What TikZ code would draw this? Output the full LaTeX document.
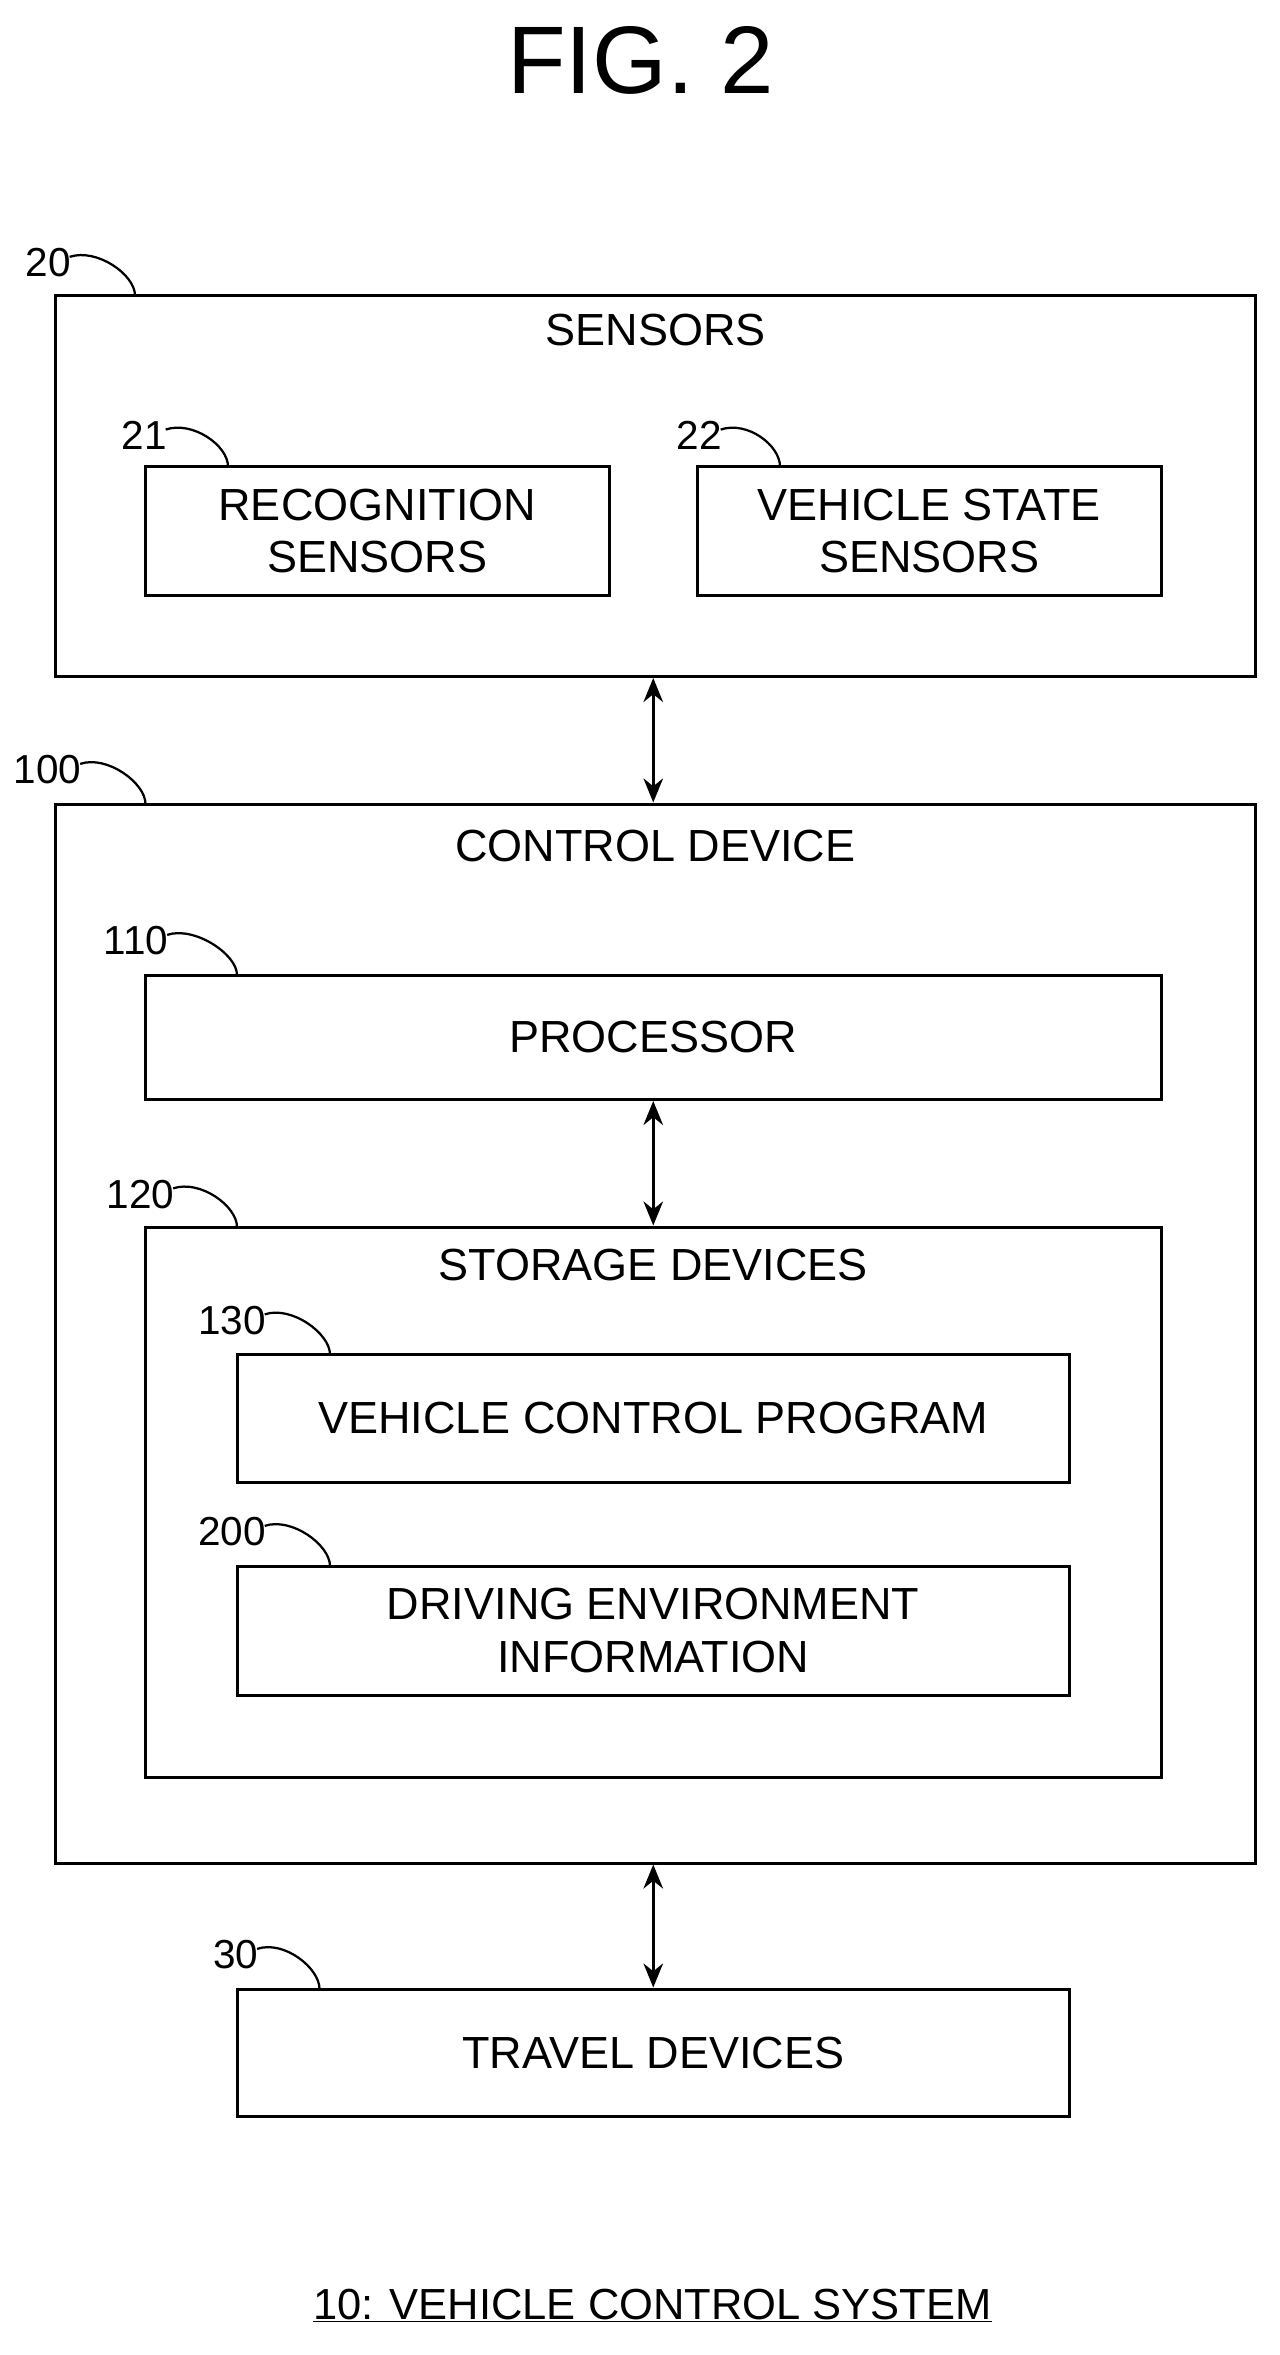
\documentclass[tikz,border=0pt]{standalone}
\usepackage{fontspec}
\setmainfont{Liberation Sans}
\usetikzlibrary{positioning, arrows.meta}
\tikzset{
	x=1pt, y=-1pt,
	every text node part/.style= {
		align=center
	},
	block/.style= {
		rectangle,
		draw,
		line width=2pt,
		inner sep=0pt,
		font=\fontsize{30}{35}\selectfont
	},
	title/.style= {
		font=\fontsize{30}{35}\selectfont
	},
	refnum/.style= {
		font=\fontsize{27}{32}\selectfont,
		inner sep=1pt
	},
	leader/.style= {
		line width=1.5pt
	},
	link/.style= {
		line width=2pt,
		{Stealth[length=16pt,width=13pt]}-{Stealth[length=16pt,width=13pt]}
	}
}
\newcommand{\refmark}[4]{% name, text, label position, leader end
	\node (#1)[refnum, anchor=south west] at (#3) {#2};
	\draw[leader] (#1.east) ++(-2,-4) .. controls +(18,-6) and +(0,-14) .. (#4);
}
\begin{document}
\begin{tikzpicture}
	\useasboundingbox (0,0) rectangle (853,1570);
	
	\node (fig) at (427,40) {\fontsize{64}{72}\selectfont FIG. 2};
	
	% sensors
	\node (sensors)[block, minimum width=800, minimum height=254] at (437,324) {};
	\node (sensorsT)[title, below=10pt of sensors.north] {SENSORS};
	\node (recog)[block, minimum width=309, minimum height=86] at (251.5,354) {RECOGNITION\\SENSORS};
	\node (vstate)[block, minimum width=309, minimum height=86] at (619.5,354) {VEHICLE STATE\\SENSORS};
	
	% control device
	\node (control)[block, minimum width=800, minimum height=706] at (437,889) {};
	\node (controlT)[title, below=15pt of control.north] {CONTROL DEVICE};
	\node (proc)[block, minimum width=677, minimum height=83] at (435.5,691.5) {PROCESSOR};
	\node (storage)[block, minimum width=677, minimum height=367] at (435.5,1001.5) {};
	\node (storageT)[title, below=12pt of storage.north] {STORAGE DEVICES};
	\node (prog)[block, minimum width=555, minimum height=85] at (435.5,945.5) {VEHICLE CONTROL PROGRAM};
	\node (envinfo)[block, minimum width=555, minimum height=86] at (435.5,1087) {DRIVING ENVIRONMENT\\INFORMATION};
	
	% travel devices
	\node (travel)[block, minimum width=555, minimum height=85] at (435.5,1368.5) {TRAVEL DEVICES};
	
	\draw[link] (sensors.south -| proc) to (control.north -| proc);
	\draw[link] (proc.south) to (storage.north);
	\draw[link] (control.south -| travel) to (travel.north);
	
	% reference numerals
	\refmark{n20}{20}{16,186}{90,197}
	\refmark{n21}{21}{80,301}{152,311}
	\refmark{n22}{22}{450,301}{520,311}
	\refmark{n100}{100}{8,524}{97,536}
	\refmark{n110}{110}{68,638}{158,650}
	\refmark{n120}{120}{70,807}{158,818}
	\refmark{n130}{130}{131,891}{220,903}
	\refmark{n200}{200}{131,1032}{220,1044}
	\refmark{n30}{30}{141,1314}{213,1326}
	
	\node (caption) at (435,1537) {\fontsize{29}{34}\selectfont\underline{10: VEHICLE CONTROL SYSTEM}};
\end{tikzpicture}
\end{document}
